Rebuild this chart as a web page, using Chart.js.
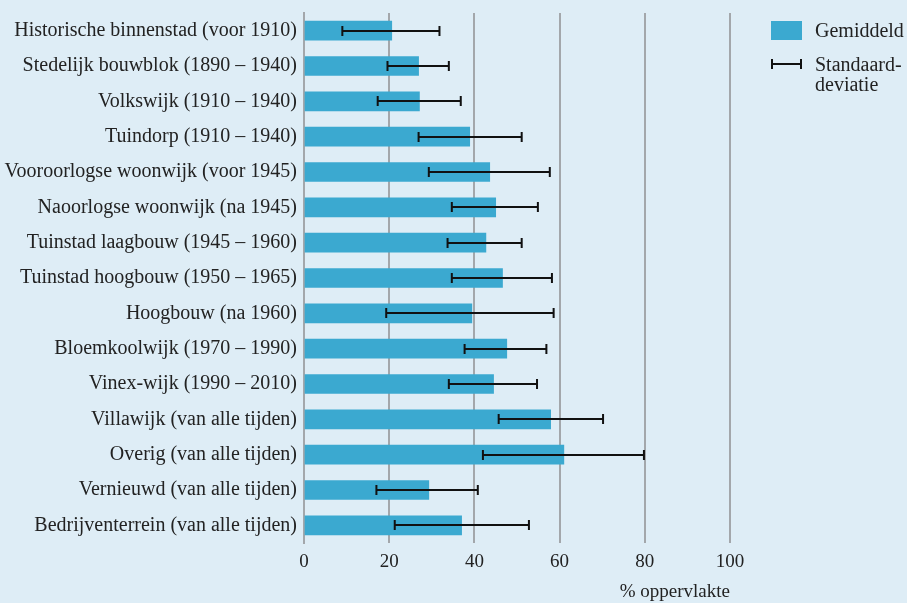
<!DOCTYPE html>
<html><head><meta charset="utf-8">
<script src="https://cdn.jsdelivr.net/npm/chart.js@4/dist/chart.umd.min.js"></script>
<style>
html,body{margin:0;padding:0;background:#deedf6;}
#wrap{position:relative;width:907px;height:603px;overflow:hidden;}
canvas{position:absolute;left:0;top:0;}
.lg{position:absolute;font-family:"Liberation Serif",serif;font-size:20px;color:#222;line-height:20px;white-space:nowrap;}
</style></head><body>
<div id="wrap">
<canvas id="c" width="907" height="603"></canvas>
<div style="position:absolute;left:771px;top:21px;width:31px;height:19px;background:#3ba9d0"></div>
<div class="lg" style="left:815px;top:20px">Gemiddeld</div>
<div style="position:absolute;left:771px;top:63px;width:31px;height:2px;background:#111"></div>
<div style="position:absolute;left:771px;top:59px;width:2px;height:10px;background:#111"></div>
<div style="position:absolute;left:800px;top:59px;width:2px;height:10px;background:#111"></div>
<div class="lg" style="left:815px;top:54px">Standaard-<br>deviatie</div>
</div>
<script>
const categories = ["Historische binnenstad (voor 1910)","Stedelijk bouwblok (1890 – 1940)","Volkswijk (1910 – 1940)","Tuindorp (1910 – 1940)","Vooroorlogse woonwijk (voor 1945)","Naoorlogse woonwijk (na 1945)","Tuinstad laagbouw (1945 – 1960)","Tuinstad hoogbouw (1950 – 1965)","Hoogbouw (na 1960)","Bloemkoolwijk (1970 – 1990)","Vinex-wijk (1990 – 2010)","Villawijk (van alle tijden)","Overig (van alle tijden)","Vernieuwd (van alle tijden)","Bedrijventerrein (van alle tijden)"];
const gemiddeld = [20.6,26.9,27.1,38.9,43.6,45.0,42.7,46.6,39.4,47.6,44.5,57.9,61.0,29.3,37.0];
const sdLow  = [9.0,19.6,17.3,26.9,29.3,34.7,33.7,34.7,19.3,37.7,34.0,45.7,42.0,17.0,21.3];
const sdHigh = [31.8,34.0,36.8,51.1,57.7,54.9,51.1,58.2,58.6,56.9,54.7,70.2,79.8,40.8,52.8];
const xTicks = [0,20,40,60,80,100];

const FONT = "Liberation Serif";

const errPlugin = {
  id:'err',
  afterDatasetsDraw(chart){
    const ctx = chart.ctx, xs = chart.scales.x, ys = chart.scales.y;
    ctx.save();
    ctx.strokeStyle = '#111';
    sdLow.forEach((lo,i)=>{
      const y = Math.round(ys.getPixelForValue(i));
      const x1 = xs.getPixelForValue(lo), x2 = xs.getPixelForValue(sdHigh[i]);
      ctx.lineWidth = 2;
      ctx.beginPath(); ctx.moveTo(x1,y); ctx.lineTo(x2,y); ctx.stroke();
      ctx.beginPath(); ctx.moveTo(x1,y-5); ctx.lineTo(x1,y+5); ctx.moveTo(x2,y-5); ctx.lineTo(x2,y+5); ctx.stroke();
    });
    ctx.restore();
  }
};

new Chart(document.getElementById('c'),{
  type:'bar',
  data:{labels:categories,datasets:[{label:'Gemiddeld',data:gemiddeld,backgroundColor:'#3ba9d0',barThickness:19}]},
  options:{
    indexAxis:'y',responsive:false,animation:false,
    layout:{padding:{top:13,right:177,left:0,bottom:0}},
    plugins:{legend:{display:false},tooltip:{enabled:false}},
    scales:{
      x:{min:0,max:100,
        afterBuildTicks(s){s.ticks = xTicks.map(v=>({value:v}));},
        afterFit(s){s.height = 60;},
        grid:{color:'#a3a7ab',lineWidth:2,drawTicks:false},
        border:{display:false},
        ticks:{padding:8,color:'#222',font:{family:FONT,size:19}},
        title:{display:true,text:'% oppervlakte',align:'end',color:'#222',font:{family:FONT,size:19},padding:{top:7,bottom:0}}
      },
      y:{
        afterFit(s){s.width = 304; s.paddingTop = 0; s.paddingBottom = 0;},
        grid:{display:false,drawTicks:false},
        border:{display:true,color:'#a3a7ab',width:2},
        ticks:{padding:7,color:'#222',font:{family:FONT,size:20}}
      }
    }
  },
  plugins:[errPlugin]
});
</script>
</body></html>
